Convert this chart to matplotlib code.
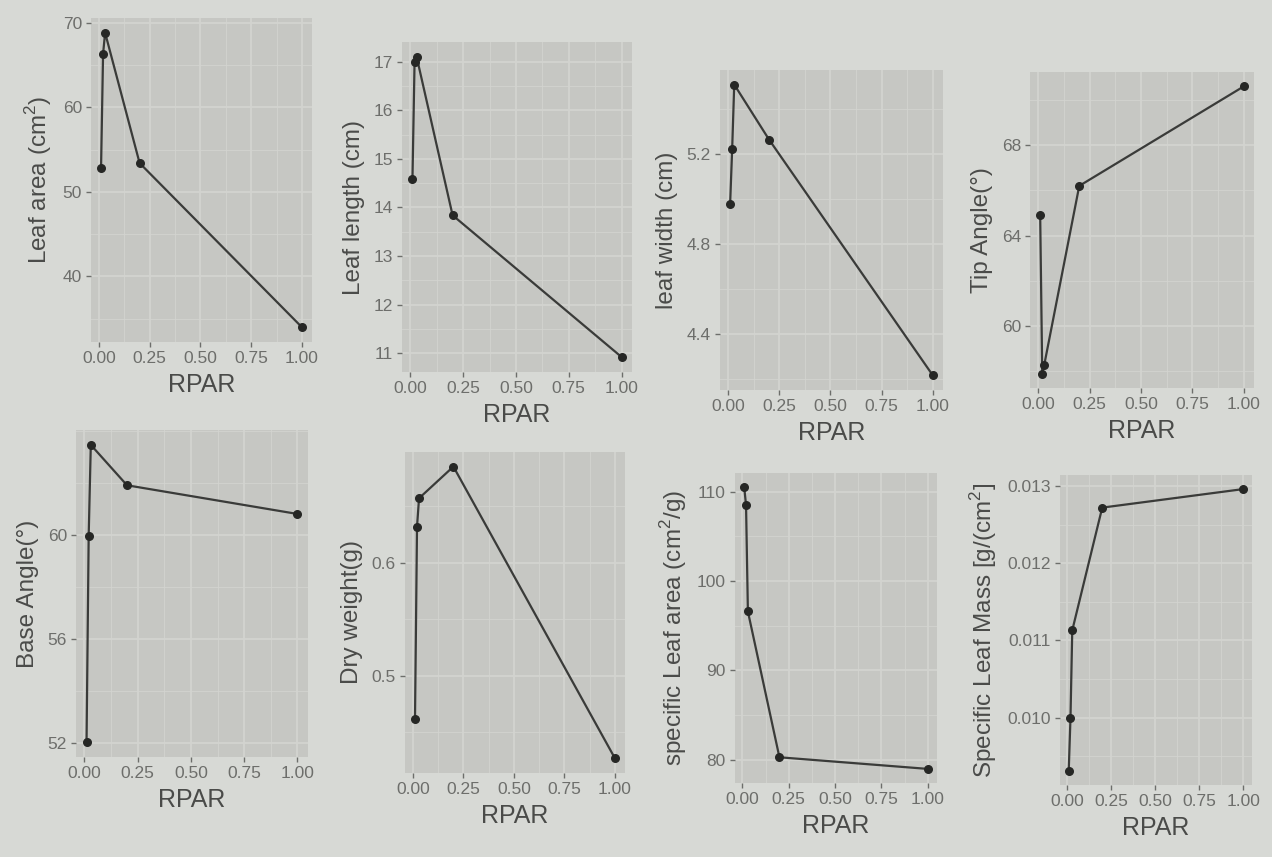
import numpy as np
import matplotlib
matplotlib.use("Agg")
import matplotlib.pyplot as plt
from matplotlib.ticker import AutoMinorLocator

plt.rcParams["font.family"] = ["Liberation Sans", "DejaVu Sans"]
plt.rcParams["mathtext.fontset"] = "custom"
plt.rcParams["mathtext.rm"] = "Liberation Sans"

# RPAR levels (x), shared by all panels
rpar = [0.01, 0.02, 0.03, 0.2, 1.0]

leaf_area = [52.8, 66.3, 68.8, 53.4, 34.0]
leaf_length = [14.58, 17.0, 17.1, 13.84, 10.92]
leaf_width = [4.98, 5.225, 5.51, 5.265, 4.215]
tip_angle = [64.9, 57.9, 58.3, 66.2, 70.6]
base_angle = [52.05, 59.95, 63.45, 61.9, 60.8]
dry_weight = [0.462, 0.632, 0.657, 0.685, 0.427]
sla = [110.5, 108.5, 96.6, 80.3, 79.0]
slm = [0.00931, 0.0100, 0.01113, 0.01272, 0.01296]

ylabels = ["Leaf area (cm$^2$)", "Leaf length (cm)", "leaf width (cm)", "Tip Angle(°)",
           "Base Angle(°)", "Dry weight(g)", "specific Leaf area (cm$^2$/g)",
           "Specific Leaf Mass [g/(cm$^2$]"]
yticks = [[40, 50, 60, 70], [11, 12, 13, 14, 15, 16, 17], [4.4, 4.8, 5.2], [60, 64, 68],
          [52, 56, 60], [0.5, 0.6], [80, 90, 100, 110], [0.010, 0.011, 0.012, 0.013]]
yfmt = ["{:.0f}", "{:.0f}", "{:.1f}", "{:.0f}", "{:.0f}", "{:.1f}", "{:.0f}", "{:.3f}"]
xticks = [0.0, 0.25, 0.5, 0.75, 1.0]
series = [leaf_area, leaf_length, leaf_width, tip_angle, base_angle, dry_weight, sla, slm]

# panel boxes in pixels: left, top, right, bottom
boxes = [(91, 18, 312, 342), (402, 42, 632, 372), (720, 70, 943, 390), (1030, 72, 1254, 388),
         (76, 430, 308, 757), (405, 452, 625, 773), (735, 473, 937, 783), (1060, 475, 1252, 785)]

W, H = 1272, 857
fig = plt.figure(figsize=(W / 100, H / 100), dpi=100)
fig.patch.set_facecolor("#d7d9d5")

bg = "#c6c7c3"
grid = "#d3d4d0"
txt = "#4a4b49"
tick_c = "#6d6e6b"

for i, ys in enumerate(series):
    l, t, r, b = boxes[i]
    ax = fig.add_axes([l / W, 1 - b / H, (r - l) / W, (b - t) / H])
    ax.set_facecolor(bg)
    for s in ax.spines.values():
        s.set_visible(False)
    ax.plot(rpar, ys, color="#3a3b39", lw=1.6, zorder=3)
    ax.scatter(rpar, ys, s=30, color="#262725", zorder=4)
    lo, hi = min(ys), max(ys)
    pad = (hi - lo) * 0.05
    ax.set_ylim(lo - pad, hi + pad)
    ax.set_xlim(0.01 - 0.0495, 1.0 + 0.0495)
    ax.set_xticks(xticks)
    ax.set_xticklabels(["0.00", "0.25", "0.50", "0.75", "1.00"])
    ax.set_yticks(yticks[i])
    ax.set_yticklabels([yfmt[i].format(v) for v in yticks[i]])
    ax.xaxis.set_minor_locator(AutoMinorLocator(2))
    ax.yaxis.set_minor_locator(AutoMinorLocator(2))
    ax.grid(True, which="major", color=grid, lw=1.3, zorder=0)
    ax.grid(True, which="minor", color=grid, lw=0.6, zorder=0)
    ax.set_axisbelow(True)
    ax.tick_params(which="major", length=3.5, width=1, color=tick_c,
                   labelcolor=tick_c, labelsize=12.5, pad=3)
    ax.tick_params(which="minor", length=0)
    ax.set_xlabel("RPAR", fontsize=18, color=txt, labelpad=5)
    ax.set_ylabel(ylabels[i], fontsize=17.5, color=txt, labelpad=6)

fig.savefig("out.png", dpi=100, facecolor=fig.get_facecolor())
